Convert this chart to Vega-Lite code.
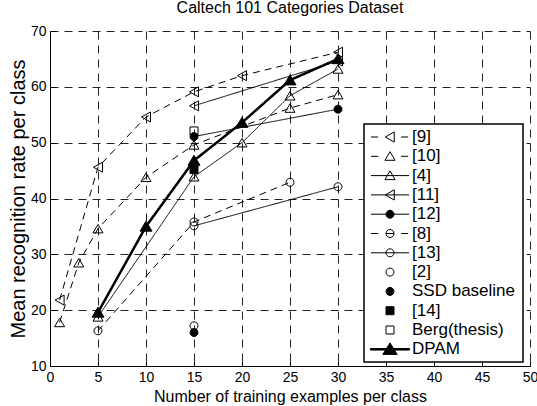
{
  "$schema": "https://vega.github.io/schema/vega-lite/v6.json",
  "width": 480,
  "height": 335,
  "autosize": {"type": "none"},
  "padding": {"left": 50, "top": 31, "right": 7, "bottom": 40},
  "background": "white",
  "config": {"view": {"stroke": null}, "font": "Liberation Sans"},
  "title": {"text": "Caltech 101 Categories Dataset", "fontSize": 16, "fontWeight": "normal", "font": "Liberation Sans", "color": "black", "offset": 8, "anchor": "middle"},
  "data": {"values": [
    {"series": "[9]", "x": 1, "y": 21.8},
    {"series": "[9]", "x": 5, "y": 45.6},
    {"series": "[9]", "x": 10, "y": 54.6},
    {"series": "[9]", "x": 15, "y": 59.1},
    {"series": "[9]", "x": 20, "y": 62},
    {"series": "[9]", "x": 30, "y": 66.2},
    {"series": "[10]", "x": 1, "y": 17.8},
    {"series": "[10]", "x": 3, "y": 28.5},
    {"series": "[10]", "x": 5, "y": 34.6},
    {"series": "[10]", "x": 10, "y": 43.8},
    {"series": "[10]", "x": 15, "y": 49.6},
    {"series": "[10]", "x": 25, "y": 56.2},
    {"series": "[10]", "x": 30, "y": 58.6},
    {"series": "[4]", "x": 5, "y": 18.8},
    {"series": "[4]", "x": 15, "y": 43.9},
    {"series": "[4]", "x": 20, "y": 50},
    {"series": "[4]", "x": 25, "y": 58.4},
    {"series": "[4]", "x": 30, "y": 63.2},
    {"series": "[11]", "x": 15, "y": 56.6},
    {"series": "[11]", "x": 30, "y": 64.6},
    {"series": "[12]", "x": 15, "y": 51.1},
    {"series": "[12]", "x": 30, "y": 56},
    {"series": "[8]", "x": 5, "y": 16.3},
    {"series": "[8]", "x": 15, "y": 35.8},
    {"series": "[8]", "x": 25, "y": 42.9},
    {"series": "[13]", "x": 15, "y": 35.1},
    {"series": "[13]", "x": 30, "y": 42.1},
    {"series": "[2]", "x": 15, "y": 17.2},
    {"series": "SSD baseline", "x": 15, "y": 16},
    {"series": "[14]", "x": 15, "y": 45.2},
    {"series": "Berg(thesis)", "x": 15, "y": 52.1},
    {"series": "DPAM", "x": 5, "y": 19.6},
    {"series": "DPAM", "x": 10, "y": 35},
    {"series": "DPAM", "x": 15, "y": 46.8},
    {"series": "DPAM", "x": 20, "y": 53.6},
    {"series": "DPAM", "x": 25, "y": 61.2},
    {"series": "DPAM", "x": 30, "y": 65}
  ]},
  "encoding": {
    "x": {"field": "x", "type": "quantitative",
      "scale": {"domain": [0, 50], "nice": false, "zero": false},
      "axis": {"values": [0,5,10,15,20,25,30,35,40,45,50], "title": "Number of training examples per class",
        "grid": true, "gridColor": "#222", "gridDash": [8,6], "gridWidth": 1,
        "domainColor": "black", "domainWidth": 1, "tickColor": "black", "tickSize": -5, "labelPadding": 9,
        "labelFontSize": 14, "labelColor": "black", "labelFont": "Liberation Sans", "labelFlush": false, "labelOverlap": false,
        "titleFontSize": 16, "titleFontWeight": "normal", "titleColor": "black", "titleFont": "Liberation Sans",
        "titleY": 35, "titleBaseline": "alphabetic"}},
    "y": {"field": "y", "type": "quantitative",
      "scale": {"domain": [10, 70], "nice": false, "zero": false},
      "axis": {"values": [10,20,30,40,50,60,70], "title": "Mean recognition rate per class",
        "grid": true, "gridColor": "#222", "gridDash": [8,6], "gridWidth": 1,
        "domainColor": "black", "domainWidth": 1, "tickColor": "black", "tickSize": -5, "labelPadding": 9,
        "labelFontSize": 14, "labelColor": "black", "labelFont": "Liberation Sans", "labelFlush": false, "labelOverlap": false,
        "titleFontSize": 20, "titleFontWeight": "normal", "titleColor": "black", "titleFont": "Liberation Sans",
        "titleX": -25.5, "titleBaseline": "alphabetic"}}
  },
  "layer": [
    {
      "transform": [{"filter": "indexof(['[2]','SSD baseline','[14]','Berg(thesis)'], datum.series) < 0"}],
      "mark": {"type": "line", "color": "black"},
      "encoding": {
        "detail": {"field": "series", "type": "nominal"},
        "strokeDash": {"field": "series", "type": "nominal",
          "scale": {"domain": ["[9]","[10]","[4]","[11]","[12]","[8]","[13]","DPAM"],
            "range": [[7,5],[7,5],[1,0],[1,0],[1,0],[7,5],[1,0],[1,0]]},
          "legend": null},
        "strokeWidth": {"condition": {"test": "datum.series === 'DPAM'", "value": 2.5}, "value": 1}
      }
    },
    {
      "mark": {"type": "point", "filled": true, "stroke": "black", "strokeWidth": 1, "size": 100, "opacity": 1},
      "encoding": {
        "shape": {"field": "series", "type": "nominal",
          "scale": {"domain": ["[9]","[10]","[4]","[11]","[12]","[8]","[13]","[2]","SSD baseline","[14]","Berg(thesis)","DPAM"],
            "range": [
              "M-0.9,0L0.9,-1L0.9,1Z",
              "M0,-0.85L1,0.85L-1,0.85Z",
              "M0,-0.85L1,0.85L-1,0.85Z",
              "M-0.9,0L0.9,-1L0.9,1Z",
              "M0.8,0A0.8,0.8,0,1,1,-0.8,0A0.8,0.8,0,1,1,0.8,0Z",
              "M0.8,0A0.8,0.8,0,1,1,-0.8,0A0.8,0.8,0,1,1,0.8,0Z",
              "M0.8,0A0.8,0.8,0,1,1,-0.8,0A0.8,0.8,0,1,1,0.8,0Z",
              "M0.8,0A0.8,0.8,0,1,1,-0.8,0A0.8,0.8,0,1,1,0.8,0Z",
              "M0.8,0A0.8,0.8,0,1,1,-0.8,0A0.8,0.8,0,1,1,0.8,0Z",
              "M-0.8,-0.8H0.8V0.8H-0.8Z",
              "M-0.8,-0.8H0.8V0.8H-0.8Z",
              "M0,-1.05L1.2,0.95L-1.2,0.95Z"
            ]},
          "legend": null},
        "fill": {"condition": {"test": "indexof(['[12]','SSD baseline','[14]','DPAM'], datum.series) >= 0", "value": "black"}, "value": "transparent"}
      }
    },
    {
      "mark": {"type": "point", "filled": true, "stroke": "black", "strokeWidth": 1, "size": 289, "opacity": 0},
      "encoding": {
        "shape": {"field": "series", "type": "nominal",
          "scale": {"domain": ["[9]","[10]","[4]","[11]","[12]","[8]","[13]","[2]","SSD baseline","[14]","Berg(thesis)","DPAM"],
            "range": [
              "M-2.24,0H-1.4M1.3,0H2.14M-0.55,0L0.5,-0.6L0.5,0.6Z",
              "M-2.24,0H-1.4M1.3,0H2.14M0,-0.55L0.6,0.47L-0.6,0.47Z",
              "M-2.24,0H2.24M0,-0.55L0.6,0.47L-0.6,0.47Z",
              "M-2.24,0H2.24M-0.55,0L0.5,-0.6L0.5,0.6Z",
              "M-2.24,0H2.24M0.47,0A0.47,0.47,0,1,1,-0.47,0A0.47,0.47,0,1,1,0.47,0Z",
              "M-2.24,0H-1.4M1.3,0H2.14M-0.47,0H0.47M0.47,0A0.47,0.47,0,1,1,-0.47,0A0.47,0.47,0,1,1,0.47,0Z",
              "M-2.24,0H2.24M0.47,0A0.47,0.47,0,1,1,-0.47,0A0.47,0.47,0,1,1,0.47,0Z",
              "M0.47,0A0.47,0.47,0,1,1,-0.47,0A0.47,0.47,0,1,1,0.47,0Z",
              "M0.47,0A0.47,0.47,0,1,1,-0.47,0A0.47,0.47,0,1,1,0.47,0Z",
              "M-0.47,-0.47H0.47V0.47H-0.47Z",
              "M-0.47,-0.47H0.47V0.47H-0.47Z",
              "M-2.3,-0.09H2.3V0.09H-2.3ZM0,-0.75L0.85,0.6L-0.85,0.6ZM14.9,0L14.9,0"
            ]},
          "legend": {"orient": "none", "legendX": 314, "legendY": 93, "title": null, "direction": "vertical",
            "padding": 4, "strokeColor": "black", "fillColor": "white", "symbolSize": 289,
            "symbolStrokeWidth": 1, "symbolStrokeColor": "black", "symbolOpacity": 1,
            "symbolOffset": 13, "labelOffset": 13, "labelFontSize": 17, "labelFont": "Liberation Sans", "labelColor": "black",
            "rowPadding": 2.3, "labelLimit": 300,
            "encode": {"symbols": {"update": {"opacity": {"value": 1}, "stroke": {"value": "black"}, "strokeWidth": {"value": 1}}},
                       "legend": {"update": {"strokeWidth": {"value": 1.5}}}}}},
        "fill": {"field": "series", "type": "nominal",
          "scale": {"domain": ["[9]","[10]","[4]","[11]","[12]","[8]","[13]","[2]","SSD baseline","[14]","Berg(thesis)","DPAM"],
            "range": ["transparent","transparent","transparent","transparent","black","transparent","transparent","transparent","black","black","transparent","black"]},
          "legend": {"orient": "none", "legendX": 314, "legendY": 93, "title": null, "direction": "vertical",
            "padding": 4, "strokeColor": "black", "fillColor": "white", "symbolSize": 289,
            "symbolStrokeWidth": 1, "symbolStrokeColor": "black", "symbolOpacity": 1,
            "symbolOffset": 13, "labelOffset": 13, "labelFontSize": 17, "labelFont": "Liberation Sans", "labelColor": "black",
            "rowPadding": 2.3, "labelLimit": 300,
            "encode": {"symbols": {"update": {"opacity": {"value": 1}, "stroke": {"value": "black"}, "strokeWidth": {"value": 1}}},
                       "legend": {"update": {"strokeWidth": {"value": 1.5}}}}}}
      }
    }
  ],
  "resolve": {"scale": {"shape": "independent", "fill": "independent"}}
}
